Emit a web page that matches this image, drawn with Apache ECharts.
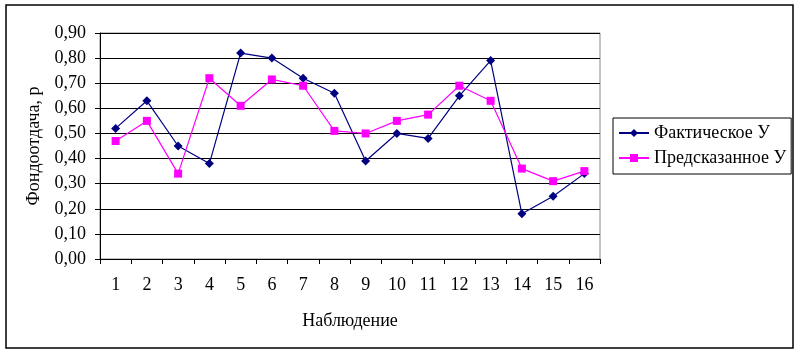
<!DOCTYPE html>
<html>
<head>
<meta charset="utf-8">
<script src="https://cdn.jsdelivr.net/npm/echarts@6/dist/echarts.min.js"></script>
<style>
  html, body { margin: 0; padding: 0; background: #fff; }
  #chart { width: 801px; height: 354px; }
</style>
</head>
<body>
<div id="chart"></div>
<script>
const categories = ["1", "2", "3", "4", "5", "6", "7", "8", "9", "10", "11", "12", "13", "14", "15", "16"];
const actual = [0.52, 0.63, 0.45, 0.38, 0.82, 0.80, 0.72, 0.66, 0.39, 0.50, 0.48, 0.65, 0.79, 0.18, 0.25, 0.34];
const predicted = [0.47, 0.55, 0.34, 0.72, 0.61, 0.715, 0.69, 0.51, 0.50, 0.55, 0.575, 0.69, 0.63, 0.36, 0.31, 0.35];

const font = "'Liberation Serif', 'Times New Roman', serif";
const chart = echarts.init(document.getElementById("chart"));

const option = {
  animation: false,
  backgroundColor: "#fff",
  graphic: [
    {
      type: "rect",
      shape: { x: 6, y: 5, width: 787, height: 343 },
      style: { fill: "none", stroke: "#000", lineWidth: 1.5 },
      silent: true,
    },
  ],
  grid: {
    left: 100,
    top: 33,
    width: 500,
    height: 226,
    show: true,
    borderColor: "#888",
    borderWidth: 1,
    backgroundColor: "transparent",
  },
  legend: {
    orient: "vertical",
    left: 613,
    top: 118,
    padding: [6, 5, 7, 5],
    itemGap: 7,
    itemWidth: 30,
    itemHeight: 10,
    borderColor: "#000",
    borderWidth: 1,
    textStyle: { fontFamily: font, fontSize: 18, color: "#000" },
    data: ["Фактическое У", "Предсказанное У"],
  },
  xAxis: {
    type: "category",
    data: categories,
    boundaryGap: true,
    name: "Наблюдение",
    nameLocation: "middle",
    nameGap: 53,
    nameTextStyle: { fontFamily: font, fontSize: 18, color: "#000" },
    axisLine: { lineStyle: { color: "#000", width: 1 } },
    axisTick: { show: true, alignWithLabel: false, length: 5, lineStyle: { color: "#000" } },
    axisLabel: { fontFamily: font, fontSize: 18, color: "#000", margin: 17 },
  },
  yAxis: {
    type: "value",
    min: 0,
    max: 0.9,
    interval: 0.1,
    name: "Фондоотдача, р",
    nameLocation: "middle",
    nameGap: 56,
    nameTextStyle: { fontFamily: font, fontSize: 18, color: "#000" },
    axisLine: { show: true, lineStyle: { color: "#000", width: 1 } },
    axisTick: { show: true, length: 5, lineStyle: { color: "#000" } },
    axisLabel: {
      fontFamily: font,
      fontSize: 18,
      color: "#000",
      margin: 14,
      formatter: (v) => v.toFixed(2).replace(".", ","),
    },
    splitLine: { lineStyle: { color: "#000", width: 1 } },
  },
  series: [
    {
      name: "Фактическое У",
      type: "line",
      data: actual,
      symbol: "diamond",
      symbolSize: 9,
      color: "#000080",
      lineStyle: { color: "#000080", width: 1.2 },
      itemStyle: { color: "#000080" },
    },
    {
      name: "Предсказанное У",
      type: "line",
      data: predicted,
      symbol: "rect",
      symbolSize: 8,
      color: "#ff00ff",
      lineStyle: { color: "#ff00ff", width: 1.2 },
      itemStyle: { color: "#ff00ff" },
    },
  ],
};

chart.setOption(option);
</script>
</body>
</html>
